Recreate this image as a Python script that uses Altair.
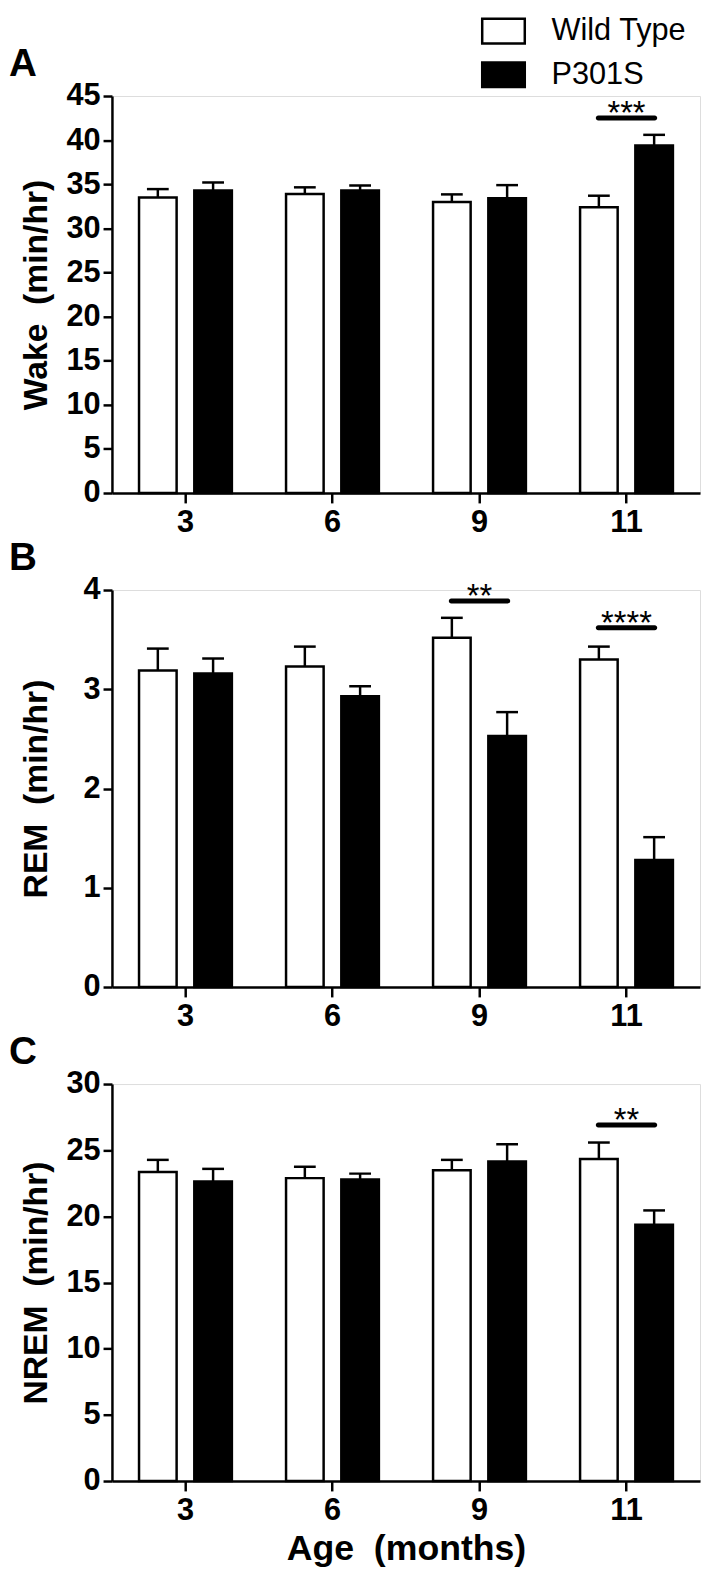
import altair as alt
import pandas as pd

ages = ["3", "6", "9", "11"]
groups = ["Wild Type", "P301S"]

wake_wt = [33.5, 33.9, 33.0, 32.4]
wake_wt_err = [0.95, 0.75, 0.85, 1.3]
wake_tg = [34.3, 34.3, 33.4, 39.4]
wake_tg_err = [0.9, 0.55, 1.5, 1.2]

rem_wt = [3.19, 3.23, 3.52, 3.30]
rem_wt_err = [0.22, 0.20, 0.20, 0.13]
rem_tg = [3.16, 2.93, 2.53, 1.28]
rem_tg_err = [0.15, 0.10, 0.24, 0.23]

nrem_wt = [23.36, 22.89, 23.49, 24.33]
nrem_wt_err = [0.91, 0.86, 0.78, 1.25]
nrem_tg = [22.63, 22.78, 24.14, 19.36]
nrem_tg_err = [0.96, 0.45, 1.31, 1.09]

wake_sig_age = ["11"]
wake_sig_y = [42.5]
wake_sig_label = ["***"]
rem_sig_age = ["9", "11"]
rem_sig_y = [3.89, 3.62]
rem_sig_label = ["**", "****"]
nrem_sig_age = ["11"]
nrem_sig_y = [26.9]
nrem_sig_label = ["**"]

FONT = "Liberation Sans, Arial, Helvetica, sans-serif"
W = 594
H = 401


def make_df(wt, wt_err, tg, tg_err):
    rows = []
    for i, a in enumerate(ages):
        rows.append(dict(age=a, group="Wild Type", value=wt[i], top=wt[i] + wt_err[i]))
        rows.append(dict(age=a, group="P301S", value=tg[i], top=tg[i] + tg_err[i]))
    return pd.DataFrame(rows)


def panel(df, sig_df, ytitle, ymax, ystep, letter, xtitle=None, show_legend=False):
    x = alt.X(
        "age:N", sort=ages,
        scale=alt.Scale(paddingInner=0, paddingOuter=0),
        axis=alt.Axis(
            title=xtitle, labelAngle=0, labelFont=FONT, labelFontWeight="bold",
            labelFontSize=31, labelColor="black", labelPadding=5,
            tickSize=10, tickWidth=2.5, tickColor="black",
            domainWidth=2.5, domainColor="black",
            titleFont=FONT, titleFontWeight="bold", titleFontSize=36,
            titleColor="black", titlePadding=6,
        ),
    )
    xo = alt.XOffset("group:N", sort=groups,
                     scale=alt.Scale(paddingInner=0.32, paddingOuter=0.49))
    vals = [i * ystep for i in range(int(round(ymax / ystep)) + 1)]
    y = alt.Y(
        "value:Q",
        scale=alt.Scale(domain=[0, ymax], nice=False, zero=True),
        axis=alt.Axis(
            title=ytitle, values=vals, format="d", labelFont=FONT,
            labelFontWeight="bold",
            labelFontSize=31, labelColor="black", labelPadding=3,
            tickSize=9, tickWidth=2.5, tickColor="black",
            domainWidth=2.5, domainColor="black", grid=False,
            titleFont=FONT, titleFontWeight="bold", titleFontSize=34,
            titleColor="black", titleX=-59, titleY=H / 2,
            titleBaseline="bottom", titleAngle=-90,
        ),
    )
    if show_legend:
        leg = alt.Legend(
            title=None, orient="none", legendX=380, legendY=-81, padding=0,
            symbolType="M-1.72,-1H1.72V1H-1.72Z", symbolSize=625,
            symbolStrokeColor="black", symbolStrokeWidth=2.5,
            labelFont=FONT, labelFontSize=31, labelColor="black",
            labelBaseline="middle",
            labelOffset=33, rowPadding=9,
        )
    else:
        leg = None
    fill = alt.Fill("group:N", sort=groups,
                    scale=alt.Scale(domain=groups, range=["white", "black"]),
                    legend=leg)
    bars = alt.Chart(df).mark_bar(stroke="black", strokeWidth=2.5).encode(
        x=x, xOffset=xo, y=y, fill=fill)
    err = alt.Chart(df).mark_rule(strokeWidth=2.5, color="black").encode(
        x=x, xOffset=xo, y="value:Q", y2="top:Q")
    cap = alt.Chart(df).mark_tick(color="black", thickness=2.5, size=22,
                                  opacity=1).encode(
        x=x, xOffset=xo, y="top:Q")
    sig = alt.Chart(sig_df).mark_tick(color="black", thickness=5, size=62,
                                      cornerRadius=2.5, opacity=1).encode(
        x=x, y="y:Q")
    stars = alt.Chart(sig_df).mark_text(baseline="alphabetic", dy=6,
                                        fontSize=33, font=FONT,
                                        color="black").encode(
        x=x, y="y:Q", text="label:N")
    return alt.layer(err, cap, bars, sig, stars).properties(
        width=W, height=H,
        title=alt.TitleParams(letter, anchor="start", frame="group", dx=-104,
                              dy=18, fontSize=39, fontWeight="bold", font=FONT,
                              color="black", offset=14),
    )


def sig_frame(a, yv, lab):
    return pd.DataFrame({"age": a, "y": yv, "label": lab})


pA = panel(make_df(wake_wt, wake_wt_err, wake_tg, wake_tg_err),
           sig_frame(wake_sig_age, wake_sig_y, wake_sig_label),
           "Wake\u00a0 (min/hr)", 45, 5, "A", show_legend=True)
pB = panel(make_df(rem_wt, rem_wt_err, rem_tg, rem_tg_err),
           sig_frame(rem_sig_age, rem_sig_y, rem_sig_label),
           "REM\u00a0 (min/hr)", 4, 1, "B")
pC = panel(make_df(nrem_wt, nrem_wt_err, nrem_tg, nrem_tg_err),
           sig_frame(nrem_sig_age, nrem_sig_y, nrem_sig_label),
           "NREM\u00a0 (min/hr)", 30, 5, "C", xtitle="Age\u00a0 (months)")

chart = alt.vconcat(pA, pB, pC, spacing=98, bounds="flush").properties(
    padding={"left": 0, "top": 0, "right": 0, "bottom": 0},
).configure_view(stroke=None).configure(background="white")

chart.save("out.html", embed_options={"renderer": "svg", "actions": False})
